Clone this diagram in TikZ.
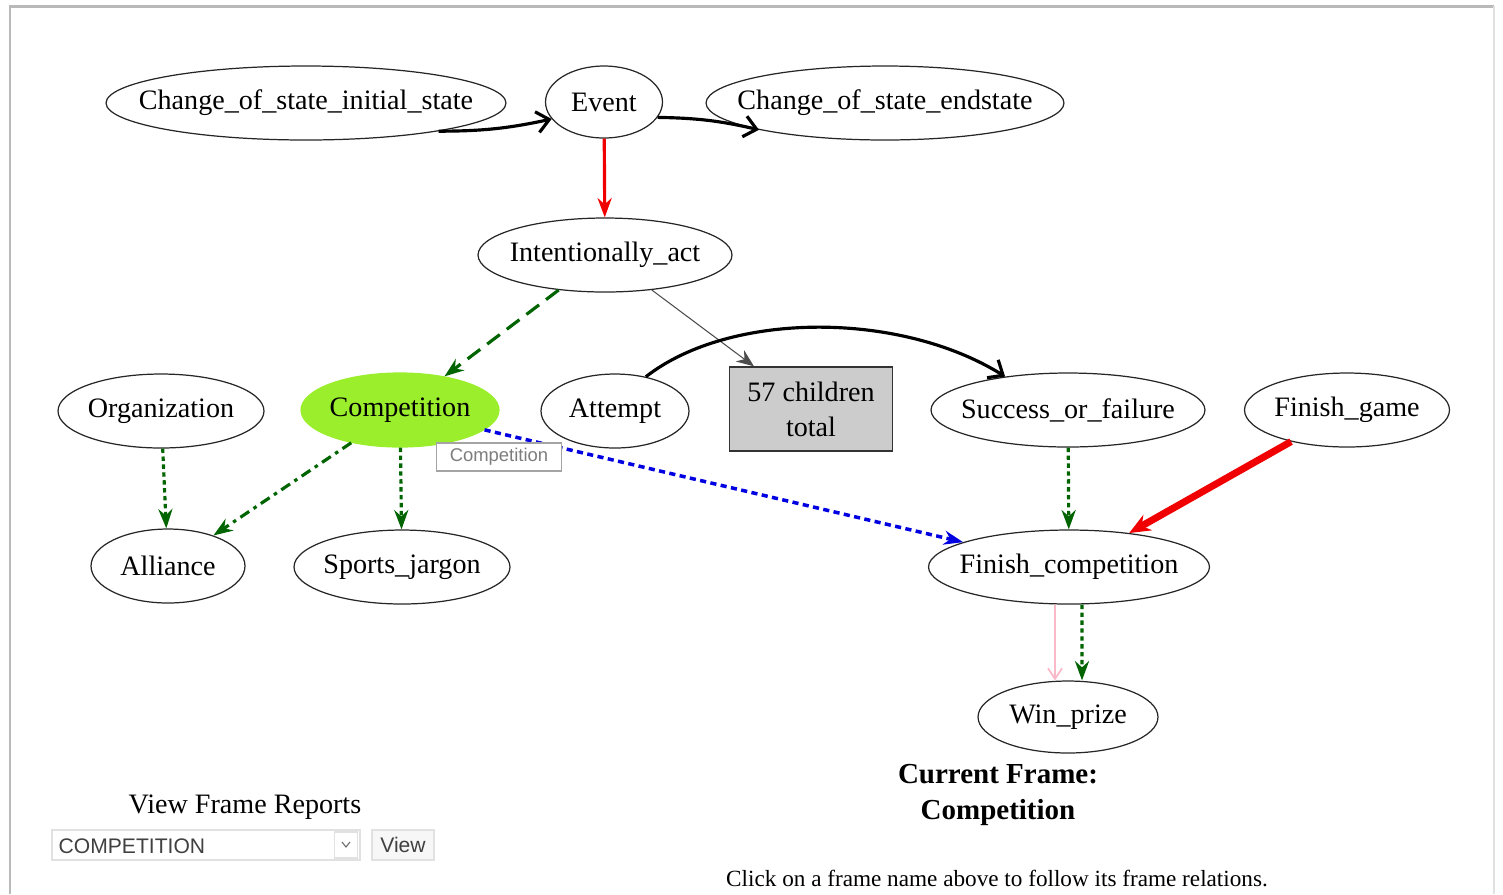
\documentclass[tikz,border=0pt]{standalone}
\usepackage{fontspec}
\setmainfont{Liberation Serif}
\newfontfamily\uifont{Liberation Sans}
\usetikzlibrary{arrows.meta,shapes.geometric}
\definecolor{framegrey}{RGB}{185,185,185}
\definecolor{lightgrey}{RGB}{225,225,225}
\definecolor{limegreen}{RGB}{154,238,44}
\definecolor{darkgreen}{RGB}{0,100,0}
\definecolor{boxgrey}{RGB}{204,204,204}
\definecolor{linkblue}{RGB}{0,0,225}
\definecolor{relred}{RGB}{240,0,0}
\definecolor{relpink}{RGB}{250,185,200}
\definecolor{tipgrey}{RGB}{125,125,125}
% the ellipse keeps its given size, the name may run over
\newcommand{\fname}[1]{\makebox[0pt]{#1}}

\begin{document}
\begin{tikzpicture}
  [
    x=0.02cm, y=-0.02cm,
    frame/.style={ellipse, draw=black!85, line width=0.7pt, inner sep=0pt, minimum height=1.48cm, font=\fontsize{16}{18}\selectfont},
    current/.style={frame, fill=limegreen, draw=limegreen},
    count/.style={rectangle, draw=black!80, fill=boxgrey, line width=0.8pt, minimum width=3.26cm, minimum height=1.68cm, align=center, font=\fontsize{16}{20}\selectfont},
    precede/.style={line width=1.8pt, -{Straight Barb[length=7pt,width=12pt]}},
    inherit/.style={relred, line width=1.8pt, -{Stealth[length=11pt,width=8pt]}},
    inheritbig/.style={relred, line width=4pt, -{Stealth[length=12pt,width=10pt]}},
    perspective/.style={darkgreen, line width=1.8pt, dash pattern=on 9pt off 5pt, -{Stealth[length=11pt,width=8pt]}},
    uses/.style={darkgreen, line width=1.8pt, dash pattern=on 2.5pt off 2pt, -{Stealth[length=11pt,width=8pt]}},
    dashdot/.style={darkgreen, line width=1.8pt, dash pattern=on 6pt off 3pt on 2pt off 3pt, -{Stealth[length=11pt,width=8pt]}},
    seealso/.style={linkblue, line width=2pt, dash pattern=on 3.5pt off 2.5pt, -{Stealth[length=11pt,width=8pt]}},
    causative/.style={relpink, line width=1pt, -{Straight Barb[length=6pt,width=8pt]}},
    child/.style={black!70, line width=0.6pt, -{Stealth[length=10pt,width=8pt]}},
    tooltip/.style={draw=tipgrey!70, fill=white, line width=0.6pt, text=tipgrey, inner sep=2pt, font=\uifont\fontsize{10.5}{12}\selectfont},
    widget/.style={draw=lightgrey, line width=0.8pt, inner sep=0pt, font=\uifont\fontsize{12}{14}\selectfont, text=black!75},
    border/.style={framegrey, line width=1.7pt}
  ]
  \useasboundingbox (0,0) rectangle (1503,894);

  % page frame
  \draw[border] (10,894) -- (10,6) -- (1494,6);
  \draw[lightgrey, line width=1pt] (1494,6) -- (1494,894);

  % frames
  \node[frame, minimum width=8cm] (cosi) at (306,103) {\fname{Change\_of\_state\_initial\_state}};
  \node[frame, minimum width=2.34cm, minimum height=1.44cm] (event) at (604,102) {\fname{Event}};
  \node[frame, minimum width=7.16cm] (cose) at (885,103) {\fname{Change\_of\_state\_endstate}};
  \node[frame, minimum width=5.08cm] (intact) at (605,255) {\fname{Intentionally\_act}};

  \node[frame, minimum width=4.12cm] (org) at (161,411) {\fname{Organization}};
  \node[current, minimum width=3.96cm] (comp) at (400,410) {\fname{Competition}};
  \node[frame, minimum width=2.96cm] (attempt) at (615,411) {\fname{Attempt}};
  \node[count] (kids) at (811,409) {57 children\\total};
  \node[frame, minimum width=5.48cm] (sof) at (1068,410) {\fname{Success\_or\_failure}};
  \node[frame, minimum width=4.1cm] (fgame) at (1347,410) {\fname{Finish\_game}};

  \node[frame, minimum width=3.08cm] (alliance) at (168,566) {\fname{Alliance}};
  \node[frame, minimum width=4.32cm] (jargon) at (402,567) {\fname{Sports\_jargon}};
  \node[frame, minimum width=5.62cm] (fcomp) at (1069,567) {\fname{Finish\_competition}};
  \node[frame, minimum width=3.6cm, minimum height=1.44cm] (prize) at (1068,717) {\fname{Win\_prize}};

  % relations
  \draw[precede] (cosi.-12) to[bend right=6] (event.198);
  \draw[precede] (event.-16) to[bend left=6] (cose.192);
  \draw[inherit] (event) -- (intact);
  \draw[perspective] (intact) -- (comp);
  \draw[child] (intact) -- (kids);
  \draw[precede] (attempt.48) .. controls (730,311) and (900,311) .. (sof.152);
  \draw[uses] (org) -- (alliance);
  \draw[dashdot] (comp) -- (alliance);
  \draw[uses] (comp) -- (jargon);
  \draw[seealso] (comp) -- (fcomp);
  \draw[uses] (sof) -- (fcomp);
  \draw[inheritbig] (fgame) -- (fcomp);
  \draw[causative] ([xshift=-0.28cm]fcomp.south) -- ([xshift=-0.26cm]prize.north);
  \draw[uses] ([xshift=0.26cm]fcomp.south) -- ([xshift=0.28cm]prize.north);

  \node[tooltip, minimum width=2.5cm, minimum height=0.56cm] (tip) at (499,457) {Competition};

  % current frame
  \node[font=\bfseries\fontsize{16.5}{20.5}\selectfont, align=center] (curr) at (998,795) {Current Frame:\\Competition};
  \node[font=\fontsize{13.2}{15}\selectfont] (hint) at (997,878) {Click on a frame name above to follow its frame relations.};

  % report selector
  \node[font=\fontsize{16}{18}\selectfont] (reports) at (245,807) {View Frame Reports};
  \node[widget, minimum width=6.16cm, minimum height=0.6cm] (select) at (206,845) {};
  \node[widget, anchor=west, draw=none] (choice) at (58,846) {COMPETITION};
  \node[widget, minimum width=0.46cm, minimum height=0.52cm] (drop) at (346,845) {};
  \draw[black!60, line width=0.6pt] (342,842) -- (346,847) -- (350,842);
  \node[widget, fill=black!3, minimum width=1.24cm, minimum height=0.6cm] (view) at (403,845) {View};

\end{tikzpicture}
\end{document}
